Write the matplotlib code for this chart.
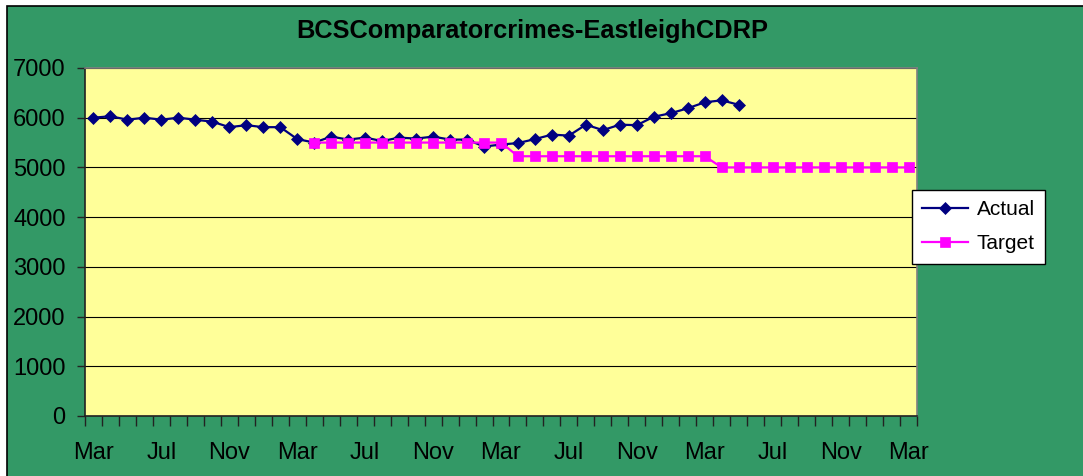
import matplotlib
matplotlib.use("Agg")
import matplotlib.pyplot as plt
from matplotlib.patches import Rectangle
from matplotlib.ticker import FixedLocator, NullFormatter

plt.rcParams['font.family'] = ['Liberation Sans', 'DejaVu Sans']

title = "BCSComparatorcrimes-EastleighCDRP"
n_months = 49  # Mar (yr1) .. Mar (yr5)
tick_labels = ["Mar", "Jul", "Nov", "Mar", "Jul", "Nov", "Mar",
               "Jul", "Nov", "Mar", "Jul", "Nov", "Mar"]
actual = [6000, 6030, 5960, 6000, 5960, 6000, 5960, 5920, 5810, 5850,
          5810, 5810, 5570, 5500, 5620, 5560, 5600, 5530, 5600, 5580,
          5620, 5560, 5560, 5420, 5460, 5490, 5570, 5660, 5640, 5860,
          5750, 5860, 5850, 6020, 6090, 6190, 6310, 6350, 6260]
target_start = 13
target = [5500] * 12 + [5225] * 12 + [5000] * 12

GREEN = "#339966"
YELLOW = "#FFFF99"
NAVY = "#000080"
MAGENTA = "#FF00FF"

W, H = 1083, 476
fig = plt.figure(figsize=(W / 100, H / 100), dpi=100)
fig.patch.set_facecolor("white")
bg = Rectangle((7 / W, -0.01), 1.0, 1 - 6 / H + 0.01,
               transform=fig.transFigure, facecolor=GREEN,
               edgecolor="black", linewidth=1.2, zorder=-10)
fig.patches.append(bg)

ax = fig.add_axes([85 / W, (H - 416) / H, (917 - 85) / W, (416 - 68) / H])
ax.set_zorder(5)
ax.set_facecolor(YELLOW)

xa = list(range(len(actual)))
xt = list(range(target_start, target_start + len(target)))
ax.plot(xa, actual, color=NAVY, lw=1.6, marker="D", markersize=6.6,
        markerfacecolor=NAVY, markeredgecolor=NAVY, markeredgewidth=0.5,
        label="Actual", zorder=3)
ax.plot(xt, target, color=MAGENTA, lw=1.6, marker="s", markersize=7.2,
        markerfacecolor=MAGENTA, markeredgecolor=MAGENTA, markeredgewidth=0.5,
        label="Target", zorder=4)

ax.set_xlim(-0.5, n_months - 0.5)
ax.set_ylim(0, 7000)
ax.set_yticks(range(0, 7001, 1000))
ax.yaxis.grid(True, color="black", lw=0.8)
ax.set_axisbelow(True)

ax.xaxis.set_major_locator(FixedLocator(list(range(0, n_months, 4))))
ax.set_xticklabels(tick_labels)
ax.xaxis.set_minor_locator(FixedLocator([i - 0.5 for i in range(n_months + 1)]))
ax.xaxis.set_minor_formatter(NullFormatter())
ax.tick_params(axis="x", which="major", length=0, pad=18.5, labelsize=17)
ax.tick_params(axis="x", which="minor", length=7, width=1, color="#222222")
ax.tick_params(axis="y", which="major", length=6, width=1, pad=8,
               labelsize=17, color="#222222")

for s in ["top", "right"]:
    ax.spines[s].set_color("#808080")
for s in ["left", "bottom"]:
    ax.spines[s].set_color("#222222")
for s in ax.spines.values():
    s.set_linewidth(1.2)

fig.text(532 / W, 1 - 31 / H, title, ha="center", va="center",
         fontsize=18.3, fontweight="bold", zorder=6)

leg = ax.legend(loc="upper left", bbox_to_anchor=(912 / W, 1 - 190 / H),
                bbox_transform=fig.transFigure, fontsize=15, frameon=True,
                fancybox=False, edgecolor="black", framealpha=1,
                handlelength=2.2, borderpad=0.5, labelspacing=0.72,
                handletextpad=0.4, borderaxespad=0)
leg.get_frame().set_linewidth(1.0)

fig.savefig("out.png", dpi=100, facecolor=fig.get_facecolor())
